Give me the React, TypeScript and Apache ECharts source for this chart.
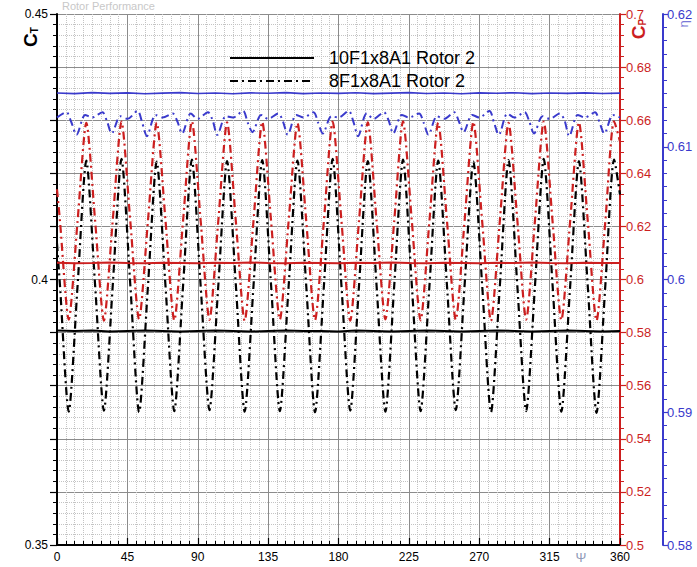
import React, { useEffect, useRef } from 'react';
import * as echarts from 'echarts';

// Azimuth angles (deg) for the 8F1x8A1 CT / CP samples
const psi8 = [
  0, 1.875,
  7.5, 13.125, 18.75, 24.375,
  30, 35.625, 41.25, 46.875,
  52.5, 58.125, 63.75, 69.375,
  75, 80.625, 86.25, 91.875,
  97.5, 103.125, 108.75, 114.375,
  120, 125.625, 131.25, 136.875,
  142.5, 148.125, 153.75, 159.375,
  165, 170.625, 176.25, 181.875,
  187.5, 193.125, 198.75, 204.375,
  210, 215.625, 221.25, 226.875,
  232.5, 238.125, 243.75, 249.375,
  255, 260.625, 266.25, 271.875,
  277.5, 283.125, 288.75, 294.375,
  300, 305.625, 311.25, 316.875,
  322.5, 328.125, 333.75, 339.375,
  345, 350.625, 356.25, 360,
];

// 8F1x8A1 Rotor 2 thrust coefficient C_T
const ct8 = [
  0.4068, 0.3990,
  0.3751, 0.3987, 0.4224, 0.3989,
  0.3753, 0.3988, 0.4227, 0.3990,
  0.3750, 0.3986, 0.4222, 0.3988,
  0.3752, 0.3989, 0.4226, 0.3987,
  0.3754, 0.3988, 0.4223, 0.3989,
  0.3751, 0.3987, 0.4225, 0.3990,
  0.3752, 0.3988, 0.4224, 0.3988,
  0.3750, 0.3986, 0.4227, 0.3989,
  0.3753, 0.3989, 0.4223, 0.3987,
  0.3751, 0.3988, 0.4226, 0.3990,
  0.3752, 0.3987, 0.4224, 0.3988,
  0.3754, 0.3989, 0.4222, 0.3989,
  0.3750, 0.3986, 0.4225, 0.3987,
  0.3752, 0.3988, 0.4227, 0.3990,
  0.3751, 0.3987, 0.4223, 0.3988,
  0.3749, 0.3989, 0.4226, 0.4160,
];

// 8F1x8A1 Rotor 2 power coefficient C_P
const cp8 = [
  0.6340, 0.6222,
  0.5849, 0.6218, 0.6590, 0.6221,
  0.5845, 0.6221, 0.6595, 0.6219,
  0.5850, 0.6219, 0.6591, 0.6222,
  0.5846, 0.6222, 0.6596, 0.6220,
  0.5848, 0.6220, 0.6592, 0.6218,
  0.5844, 0.6219, 0.6594, 0.6221,
  0.5849, 0.6221, 0.6590, 0.6220,
  0.5847, 0.6218, 0.6595, 0.6222,
  0.5845, 0.6222, 0.6592, 0.6219,
  0.5850, 0.6220, 0.6596, 0.6221,
  0.5846, 0.6219, 0.6591, 0.6220,
  0.5848, 0.6221, 0.6594, 0.6218,
  0.5844, 0.6218, 0.6590, 0.6222,
  0.5849, 0.6222, 0.6595, 0.6219,
  0.5847, 0.6220, 0.6592, 0.6221,
  0.5845, 0.6219, 0.6596, 0.6520,
];

// Azimuth angles (deg) for the 8F1x8A1 efficiency samples
const psiEta8 = [
  0, 6, 9,
  12.5, 18, 22.5, 29, 32,
  35, 40.5, 45, 51.5, 54.5,
  57.5, 63, 67.5, 74, 77,
  80, 85.5, 90, 96.5, 99.5,
  102.5, 108, 112.5, 119, 122,
  125, 130.5, 135, 141.5, 144.5,
  147.5, 153, 157.5, 164, 167,
  170, 175.5, 180, 186.5, 189.5,
  192.5, 198, 202.5, 209, 212,
  215, 220.5, 225, 231.5, 234.5,
  237.5, 243, 247.5, 254, 257,
  260, 265.5, 270, 276.5, 279.5,
  282.5, 288, 292.5, 299, 302,
  305, 310.5, 315, 321.5, 324.5,
  327.5, 333, 337.5, 344, 347,
  350, 355.5, 360,
];

// 8F1x8A1 Rotor 2 efficiency eta
const eta8 = [
  0.6122, 0.6126, 0.6119,
  0.6109, 0.6124, 0.6122, 0.6126, 0.6119,
  0.6110, 0.6123, 0.6121, 0.6127, 0.6118,
  0.6108, 0.6124, 0.6122, 0.6125, 0.6119,
  0.6110, 0.6125, 0.6121, 0.6126, 0.6120,
  0.6109, 0.6123, 0.6122, 0.6127, 0.6118,
  0.6111, 0.6124, 0.6121, 0.6125, 0.6119,
  0.6109, 0.6124, 0.6122, 0.6126, 0.6118,
  0.6110, 0.6123, 0.6122, 0.6127, 0.6119,
  0.6108, 0.6125, 0.6121, 0.6126, 0.6120,
  0.6110, 0.6124, 0.6122, 0.6125, 0.6118,
  0.6109, 0.6123, 0.6121, 0.6126, 0.6119,
  0.6111, 0.6124, 0.6122, 0.6127, 0.6118,
  0.6109, 0.6125, 0.6122, 0.6126, 0.6119,
  0.6110, 0.6123, 0.6121, 0.6125, 0.6120,
  0.6108, 0.6124, 0.6122, 0.6126, 0.6118,
  0.6110, 0.6124, 0.6122,
];

// Azimuth angles (deg) for the 10F1x8A1 samples
const psi10 = [
  0, 11.25, 22.5, 33.75, 45, 56.25, 67.5, 78.75, 90, 101.25, 112.5,
  123.75, 135, 146.25, 157.5, 168.75, 180, 191.25, 202.5, 213.75, 225,
  236.25, 247.5, 258.75, 270, 281.25, 292.5, 303.75, 315, 326.25, 337.5,
  348.75, 360,
];

const ct10 = [
  0.3904, 0.3903, 0.3904, 0.3902, 0.3903, 0.3904, 0.3903, 0.3902, 0.3903,
  0.3904, 0.3903, 0.3902, 0.3903, 0.3904, 0.3903, 0.3903, 0.3902, 0.3904,
  0.3903, 0.3902, 0.3903, 0.3904, 0.3903, 0.3902, 0.3903, 0.3904, 0.3903,
  0.3902, 0.3903, 0.3904, 0.3903, 0.3902, 0.3903,
];

const cp10 = [
  0.6063, 0.6061, 0.6062, 0.6064, 0.6062, 0.6061, 0.6063, 0.6062, 0.6061,
  0.6063, 0.6062, 0.6064, 0.6062, 0.6061, 0.6063, 0.6062, 0.6061, 0.6063,
  0.6062, 0.6064, 0.6062, 0.6061, 0.6063, 0.6062, 0.6061, 0.6063, 0.6062,
  0.6064, 0.6062, 0.6061, 0.6063, 0.6062, 0.6062,
];

const eta10 = [
  0.61405, 0.61400, 0.61408, 0.61402, 0.61406, 0.61399, 0.61404, 0.61408,
  0.61401, 0.61405, 0.61399, 0.61406, 0.61403, 0.61408, 0.61400, 0.61405,
  0.61402, 0.61407, 0.61400, 0.61404, 0.61408, 0.61401, 0.61405, 0.61399,
  0.61406, 0.61403, 0.61407, 0.61400, 0.61405, 0.61402, 0.61406, 0.61401,
  0.61404,
];

const legendNames = ['10F1x8A1 Rotor 2', '8F1x8A1 Rotor 2'];

const FONT = '"Liberation Sans", Arial, Helvetica, sans-serif';
const RED = '#cc1f1f';
const BLUE = '#3a3acc';
const DASHDOT = [8, 4, 2, 4];

const pair = (xs: number[], ys: number[]) => xs.map((x, i) => [x, ys[i]]);

export default function App() {
  const ref = useRef<HTMLDivElement>(null);

  useEffect(() => {
    if (!ref.current) return;
    const chart = echarts.init(ref.current, undefined, { renderer: 'svg' });

    const gridLine = { show: true, lineStyle: { color: '#8c8c8c', width: 1 } };
    const minorGrid = { show: true, lineStyle: { color: '#c4c4c4', width: 1, type: 'dotted' } };

    chart.setOption({
      animation: false,
      backgroundColor: '#ffffff',
      textStyle: { fontFamily: FONT },
      grid: { left: 57, right: 77, top: 14, bottom: 22, containLabel: false },
      legend: {
        data: legendNames,
        orient: 'vertical',
        left: 224,
        top: 44,
        itemWidth: 84,
        itemHeight: 14,
        itemGap: 5,
        selectedMode: false,
        itemStyle: { opacity: 0 },
        textStyle: { fontSize: 18, color: '#000', fontFamily: FONT, padding: [0, 0, 0, 10], lineHeight: 18 },
      },
      xAxis: {
        type: 'value',
        min: 0,
        max: 360,
        interval: 45,
        axisLine: { show: true, onZero: false, lineStyle: { color: '#000', width: 2 } },
        axisTick: { show: true, inside: true, length: 7, lineStyle: { color: '#000', width: 1.2 } },
        minorTick: { show: true, splitNumber: 8, length: 4, lineStyle: { color: '#000', width: 1 } },
        axisLabel: { color: '#000', fontSize: 12, margin: 6, fontFamily: FONT },
        splitLine: gridLine,
        minorSplitLine: minorGrid,
      },
      yAxis: [
        {
          type: 'value',
          position: 'left',
          min: 0.35,
          max: 0.45,
          interval: 0.01,
          axisLine: { show: true, onZero: false, lineStyle: { color: '#000', width: 2 } },
          axisTick: { show: true, length: 7, lineStyle: { color: '#000', width: 1.2 } },
          minorTick: { show: true, splitNumber: 5, length: 4, lineStyle: { color: '#000', width: 1 } },
          axisLabel: {
            color: '#000',
            fontSize: 12,
            margin: 9,
            fontFamily: FONT,
            formatter: (v: number) => (Math.round(v * 1000) % 50 === 0 ? String(Math.round(v * 100) / 100) : ''),
          },
          splitLine: gridLine,
          minorSplitLine: minorGrid,
        },
        {
          type: 'value',
          position: 'right',
          min: 0.5,
          max: 0.7,
          interval: 0.02,
          alignTicks: false,
          axisLine: { show: true, onZero: false, lineStyle: { color: RED, width: 2 } },
          axisTick: { show: true, length: 6, lineStyle: { color: RED, width: 1.2 } },
          minorTick: { show: true, splitNumber: 5, length: 4, lineStyle: { color: RED, width: 1 } },
          axisLabel: {
            color: RED,
            fontSize: 13,
            margin: 6,
            fontFamily: FONT,
            formatter: (v: number) => String(Math.round(v * 100) / 100),
          },
          splitLine: { show: false },
        },
        {
          type: 'value',
          position: 'right',
          offset: 43,
          min: 0.58,
          max: 0.62,
          interval: 0.01,
          alignTicks: false,
          axisLine: { show: true, onZero: false, lineStyle: { color: BLUE, width: 2 } },
          axisTick: { show: true, length: 5, lineStyle: { color: BLUE, width: 1.2 } },
          minorTick: { show: true, splitNumber: 10, length: 4, lineStyle: { color: BLUE, width: 1 } },
          axisLabel: {
            color: BLUE,
            fontSize: 13,
            margin: 4,
            fontFamily: FONT,
            formatter: (v: number) => String(Math.round(v * 100) / 100),
          },
          splitLine: { show: false },
        },
      ],
      series: [
        {
          name: 'CP 8F1x8A1 Rotor 2',
          type: 'line',
          yAxisIndex: 1,
          data: pair(psi8, cp8),
          smooth: 0.25,
          symbol: 'none',
          lineStyle: { color: RED, width: 2.2, type: DASHDOT },
          z: 3,
        },
        {
          name: legendNames[1],
          type: 'line',
          yAxisIndex: 0,
          data: pair(psi8, ct8),
          smooth: 0.25,
          symbol: 'none',
          itemStyle: { color: '#000' },
          lineStyle: { color: '#000', width: 2.2, type: DASHDOT },
          z: 4,
        },
        {
          name: 'eta 8F1x8A1 Rotor 2',
          type: 'line',
          yAxisIndex: 2,
          data: pair(psiEta8, eta8),
          smooth: 0.3,
          symbol: 'none',
          lineStyle: { color: BLUE, width: 2, type: DASHDOT },
          z: 3,
        },
        {
          name: legendNames[0],
          type: 'line',
          yAxisIndex: 0,
          data: pair(psi10, ct10),
          symbol: 'none',
          itemStyle: { color: '#000' },
          lineStyle: { color: '#000', width: 2 },
          z: 5,
        },
        {
          name: 'CP 10F1x8A1 Rotor 2',
          type: 'line',
          yAxisIndex: 1,
          data: pair(psi10, cp10),
          symbol: 'none',
          lineStyle: { color: RED, width: 2 },
          z: 5,
        },
        {
          name: 'eta 10F1x8A1 Rotor 2',
          type: 'line',
          yAxisIndex: 2,
          data: pair(psi10, eta10),
          symbol: 'none',
          lineStyle: { color: BLUE, width: 1.6 },
          z: 5,
        },
      ],
      graphic: [
        {
          type: 'text',
          left: 62,
          top: 0,
          silent: true,
          style: { text: 'Rotor Performance', fontSize: 11, fill: '#c8c8c8', fontFamily: FONT },
        },
        {
          type: 'text',
          x: 30,
          y: 37,
          rotation: Math.PI / 2,
          silent: true,
          style: {
            text: '{c|C}{s|T}',
            align: 'center',
            verticalAlign: 'middle',
            rich: {
              c: { fontSize: 19, fontWeight: 'bold', fill: '#000', fontFamily: FONT },
              s: { fontSize: 10, fontWeight: 'bold', fill: '#000', fontFamily: FONT, verticalAlign: 'bottom', padding: [6, 0, 0, 0] },
            },
          },
        },
        {
          type: 'text',
          x: 638,
          y: 29,
          rotation: Math.PI / 2,
          silent: true,
          style: {
            text: '{c|C}{s|P}',
            align: 'center',
            verticalAlign: 'middle',
            rich: {
              c: { fontSize: 19, fontWeight: 'bold', fill: RED, fontFamily: FONT },
              s: { fontSize: 10, fontWeight: 'bold', fill: RED, fontFamily: FONT, verticalAlign: 'bottom', padding: [6, 0, 0, 0] },
            },
          },
        },
        {
          type: 'text',
          x: 683,
          y: 24,
          rotation: Math.PI / 2,
          silent: true,
          style: { text: 'η', fontSize: 13, fill: '#7878d8', fontFamily: FONT, align: 'center', verticalAlign: 'middle' },
        },
        {
          type: 'text',
          x: 581,
          y: 557,
          silent: true,
          style: { text: 'Ψ', fontSize: 13, fill: '#8f9ab8', fontFamily: FONT, align: 'center', verticalAlign: 'middle' },
        },
      ],
    });

    return () => chart.dispose();
  }, []);

  return (
    <div
      ref={ref}
      style={{ position: 'fixed', left: 0, top: 0, width: 697, height: 567, background: '#fff' }}
    />
  );
}
